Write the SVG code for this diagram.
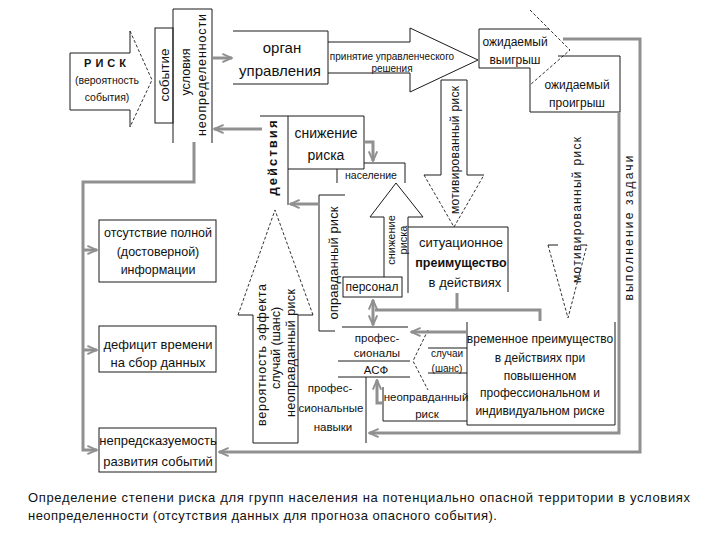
<svg xmlns="http://www.w3.org/2000/svg" width="720" height="540" viewBox="0 0 720 540">
<defs>
<style>
.b{fill:none;stroke:#1a1a1a;stroke-width:1}
.d{fill:none;stroke:#1a1a1a;stroke-width:0.9;stroke-dasharray:3 2}
.g{fill:none;stroke:#909090;stroke-width:3}
text{font-family:"Liberation Sans",Arial,sans-serif;fill:#111}
.c{text-anchor:middle}
</style>
<marker id="ah" viewBox="0 0 10 10" refX="9" refY="5" markerWidth="4" markerHeight="4" orient="auto-start-reverse"><path d="M1,1.5 L9,5 L1,8.5" fill="none" stroke="#909090" stroke-width="1.6"/></marker>
</defs>
<rect width="720" height="540" fill="#fff"/>

<g id="risk">
<path class="b" d="M130,31 V53 H70 V110 H130 V127"/>
<path class="d" d="M130,31 L152,80 L130,127"/>
<text class="c" x="107" y="67" font-size="11" font-weight="bold" letter-spacing="4">РИСК</text>
<text class="c" x="107" y="84" font-size="10.5">(вероятность</text>
<text class="c" x="107" y="101" font-size="10.5">события)</text>
</g>

<g id="event">
<rect class="b" x="155" y="28" width="18" height="95"/>
<text class="c" transform="rotate(-90 168.5 75)" x="168.5" y="75" font-size="13.5">событие</text>
</g>

<g id="conditions">
<path class="b" d="M173,143 V9 H212 V143"/>
<text class="c" transform="rotate(-90 190 72)" x="190" y="72" font-size="12.5">условия</text>
<text class="c" transform="rotate(-90 206 75)" x="206" y="75" font-size="12.5" textLength="122" lengthAdjust="spacing">неопределенности</text>
</g>

<g id="organ">
<path class="b" d="M233,31 H328 V84 H233"/>
<text class="c" x="282" y="53" font-size="15">орган</text>
<text class="c" x="280" y="76" font-size="15">управления</text>
</g>

<g id="decision">
<path class="b" d="M328,42 H410 V28 L478,60 L410,92 V73 H328"/>
<text class="c" x="392" y="59.5" font-size="10">принятие управленческого</text>
<text class="c" x="392" y="72" font-size="10">решения</text>
</g>

<g id="expected-gain">
<path class="b" d="M549,29 H479 V68 H530"/>
<path class="d" d="M530,10 L570,50 L530,85"/>
<text class="c" x="515" y="46" font-size="12">ожидаемый</text>
<text class="c" x="515" y="64" font-size="12">выигрыш</text>
</g>

<g id="expected-loss">
<path class="b" d="M530,68 V112 H620 V56 H558"/>
<text class="c" x="577" y="89" font-size="12">ожидаемый</text>
<text class="c" x="577" y="107" font-size="12">проигрыш</text>
</g>

<g id="actions">
<path class="b" d="M260,116 H364 V169 H288"/>
<path class="b" d="M288,116 V205"/>
<text class="c" transform="rotate(-90 277 158)" x="277" y="158" font-size="13" font-weight="bold" textLength="75" lengthAdjust="spacing">действия</text>
<text class="c" x="326" y="138" font-size="14">снижение</text>
<text class="c" x="326" y="160" font-size="14">риска</text>
</g>

<g id="population">
<path class="b" d="M337,169 V183 M364,163 H405 V183"/>
<text class="c" x="371" y="179" font-size="10.5">население</text>
</g>

<g id="motivated-risk-1">
<path class="b" d="M424,175 H441 V80 H467 V175 H484"/>
<path class="d" d="M424,175 L454,227 L484,175"/>
<text class="c" transform="rotate(-90 459 150)" x="459" y="150" font-size="12" textLength="128" lengthAdjust="spacing">мотивированный риск</text>
</g>

<g id="reduce-risk">
<path class="b" d="M384,277 V217 H370 L396,183 L423,217 H408 V293"/>
<text class="c" transform="rotate(-90 395 240)" x="395" y="240" font-size="11">снижение</text>
<text class="c" transform="rotate(-90 407 240)" x="407" y="240" font-size="11">риска</text>
</g>

<g id="situational">
<path class="b" d="M408,227 H508 V292"/>
<text class="c" x="461" y="247" font-size="13">ситуационное</text>
<text class="c" x="461" y="267" font-size="12.5" font-weight="bold">преимущество</text>
<text class="c" x="465" y="287" font-size="13">в действиях</text>
</g>

<g id="personnel">
<rect class="b" x="343" y="277" width="59" height="20"/>
<text class="c" x="372" y="291" font-size="12">персонал</text>
</g>

<g id="justified-risk">
<path class="b" d="M345,195 H319 V331 H335"/>
<text class="c" transform="rotate(-90 337.5 263)" x="337.5" y="263" font-size="13" textLength="113" lengthAdjust="spacing">оправданный риск</text>
</g>

<g id="probability">
<path class="b" d="M238,315 H253 V443 H298 V315 H313"/>
<path class="d" d="M238,315 L275,210 L313,315"/>
<text class="c" transform="rotate(-90 265.5 355)" x="265.5" y="355" font-size="12.5" textLength="142" lengthAdjust="spacing">вероятность эффекта</text>
<text class="c" transform="rotate(-90 280 348)" x="280" y="348" font-size="12.5">случай (шанс)</text>
<text class="c" transform="rotate(-90 294.5 353)" x="294.5" y="353" font-size="12.5" textLength="128" lengthAdjust="spacing">неоправданный риск</text>
</g>

<g id="professionals">
<path class="b" d="M342,327 H408 M338,361 H410 M338,377 H410 M366,377 V443"/>
<text class="c" x="377" y="342" font-size="11.5">профес-</text>
<text class="c" x="377" y="357" font-size="11.5">сионалы</text>
<text class="c" x="376" y="374" font-size="11.5">АСФ</text>
</g>

<g id="chance">
<path class="b" d="M428,348 H467 M428,373 H467"/>
<path class="d" d="M428,330 L413,361 L428,390"/>
<text class="c" x="447" y="357" font-size="10">случаи</text>
<text class="c" x="447" y="371.5" font-size="10">(шанс)</text>
</g>

<g id="unjustified-risk">
<path class="b" d="M383,387 V421 H467"/>
<text class="c" x="426" y="401" font-size="11.5">неоправданный</text>
<text class="c" x="427" y="418" font-size="11.5">риск</text>
</g>

<g id="temporal">
<path class="b" d="M467,322 V425 H615 V322"/>
<text class="c" x="540" y="343" font-size="12">временное преимущество</text>
<text class="c" x="540" y="362" font-size="12">в действиях  при</text>
<text class="c" x="540" y="380" font-size="12">повышенном</text>
<text class="c" x="540" y="397" font-size="12">профессиональном и</text>
<text class="c" x="540" y="415" font-size="12">индивидуальном риске</text>
</g>

<g id="prof-skills">
<text class="c" x="330" y="392" font-size="11.5">профес-</text>
<text class="c" x="331" y="412" font-size="11.5">сиональные</text>
<text class="c" x="333" y="431" font-size="11.5">навыки</text>
</g>

<g id="motivated-risk-2">
<path class="b" d="M548,245 H558 M580,245 H587"/>
<path class="d" d="M548,245 L568,318 L587,245"/>
<text class="c" transform="rotate(-90 581 210)" x="581" y="210" font-size="12" textLength="146" lengthAdjust="spacing">мотивированный риск</text>
</g>

<g id="task">
<text class="c" transform="rotate(-90 633 228)" x="633" y="228" font-size="12" textLength="145" lengthAdjust="spacing">выполнение задачи</text>
</g>

<g id="no-info">
<rect class="b" x="99" y="220" width="117" height="62"/>
<text class="c" x="158" y="237" font-size="12.5">отсутствие полной</text>
<text class="c" x="158" y="256" font-size="12.5">(достоверной)</text>
<text class="c" x="158" y="274" font-size="12.5">информации</text>
</g>

<g id="time-deficit">
<rect class="b" x="99" y="326" width="117" height="46"/>
<text class="c" x="158" y="349" font-size="13">дефицит времени</text>
<text class="c" x="158" y="367" font-size="13">на сбор данных</text>
</g>

<g id="unpredictability">
<rect class="b" x="99" y="428" width="117" height="44"/>
<text class="c" x="158" y="445" font-size="13">непредсказуемость</text>
<text class="c" x="158" y="466" font-size="13">развития событий</text>
</g>

<g id="connectors">
<path class="g" d="M194,142 V182 H83 V450 H97" marker-end="url(#ah)"/>
<path class="g" d="M83,250 H97" marker-end="url(#ah)"/>
<path class="g" d="M83,350 H97" marker-end="url(#ah)"/>
<path class="g" d="M212,58 H232" marker-end="url(#ah)"/>
<path class="g" d="M262,129 H214" marker-end="url(#ah)"/>
<path class="g" d="M364,142 H373 V161" marker-end="url(#ah)"/>
<path class="g" d="M320,204 H290" marker-end="url(#ah)"/>
<path class="g" d="M373,300 V325" marker-start="url(#ah)" marker-end="url(#ah)"/>
<path class="g" d="M457,293 V310 M375,310 H540 V321"/>
<path class="g" d="M383,403 H377 V380" marker-end="url(#ah)"/>
<path class="g" d="M467,332 H411" marker-end="url(#ah)"/>
<path class="g" d="M619,112 V433 H369" marker-end="url(#ah)"/>
<path class="g" d="M563,39 H640 V452 H219" marker-end="url(#ah)"/>
</g>

<g id="caption">
<text x="28" y="502" font-size="13" textLength="662" lengthAdjust="spacing">Определение степени риска для групп населения на потенциально опасной территории в условиях</text>
<text x="28" y="520" font-size="13" textLength="469" lengthAdjust="spacing">неопределенности (отсутствия данных для прогноза опасного события).</text>
</g>
</svg>
